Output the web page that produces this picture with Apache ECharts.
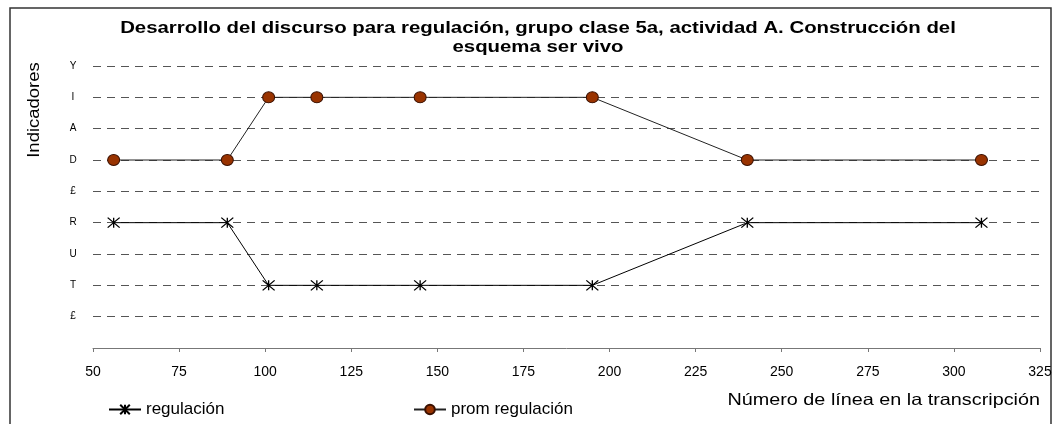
<!DOCTYPE html>
<html>
<head>
<meta charset="utf-8">
<script src="https://cdn.jsdelivr.net/npm/echarts@6/dist/echarts.min.js"></script>
<style>
  html, body { margin: 0; padding: 0; background: #fff; }
  #chart { width: 1055px; height: 424px; }
</style>
</head>
<body>
<div id="chart"></div>
<script>
// line numbers in the transcription (x)
const lineNumbers = [56, 89, 101, 115, 145, 195, 240, 308];
// indicator level per point (index into yLabels)
const regulacion = [4, 4, 2, 2, 2, 2, 4, 4];
const promRegulacion = [6, 6, 8, 8, 8, 8, 6, 6];
// y tick labels, bottom to top
const yLabels = ['', '£', 'T', 'U', 'R', '£', 'D', 'A', 'I', 'Y'];
const xTicks = [50, 325, 25];

const font = 'Liberation Sans, Arial, sans-serif';
// excel style star marker: an X with a vertical bar
const asterisk = 'path://M0,-5L0,5M-6,-5L6,5M-6,5L6,-5';

const chart = echarts.init(document.getElementById('chart'));
chart.setOption({
  animation: false,
  textStyle: { fontFamily: font },
  graphic: [{
    type: 'rect',
    shape: { x: 10, y: 8, width: 1041, height: 430 },
    style: { fill: 'none', stroke: '#333', lineWidth: 1.5 },
    silent: true
  }, {
    // title, slightly stretched like the original
    type: 'text',
    x: 538, y: 19,
    scaleX: 1.235,
    style: {
      text: 'Desarrollo del discurso para regulación, grupo clase 5a, actividad A. Construcción del\nesquema ser vivo',
      font: 'bold 16.5px ' + font,
      fill: '#000',
      align: 'center',
      lineHeight: 19
    },
    silent: true
  }, {
    type: 'text',
    x: 34, y: 110,
    rotation: Math.PI / 2,
    scaleX: 1.12,
    style: {
      text: 'Indicadores',
      font: '16.5px ' + font,
      fill: '#000',
      align: 'center',
      verticalAlign: 'middle'
    },
    silent: true
  }, {
    type: 'text',
    x: 1040, y: 400,
    scaleX: 1.2,
    style: {
      text: 'Número de línea en la transcripción',
      font: '16.5px ' + font,
      fill: '#000',
      align: 'right',
      verticalAlign: 'middle'
    },
    silent: true
  }],
  legend: [{
    data: ['regulación'],
    left: 103, top: 396,
    itemWidth: 32, itemHeight: 12, itemGap: 4,
    textStyle: { fontSize: 17, color: '#000', fontFamily: font }
  }, {
    data: ['prom regulación'],
    left: 408, top: 396,
    itemWidth: 32, itemHeight: 12, itemGap: 4,
    textStyle: { fontSize: 17, color: '#000', fontFamily: font }
  }],
  grid: { left: 93, right: 15, top: 66, bottom: 76 },
  xAxis: {
    type: 'value',
    min: xTicks[0], max: xTicks[1], interval: xTicks[2],
    axisLine: { lineStyle: { color: '#777', width: 1 } },
    axisTick: { show: true, length: 4, lineStyle: { color: '#777' } },
    axisLabel: { fontSize: 14, color: '#000', margin: 17, fontFamily: font },
    splitLine: { show: false }
  },
  yAxis: {
    type: 'value',
    min: 0, max: yLabels.length - 1, interval: 1,
    axisLine: { show: false },
    axisTick: { show: false },
    axisLabel: {
      fontSize: 10, color: '#000', margin: 20, align: 'center', fontFamily: font,
      formatter: v => yLabels[v]
    },
    splitLine: { lineStyle: { color: '#555', type: [8, 6], width: 1 } }
  },
  series: [{
    name: 'regulación',
    type: 'line',
    data: lineNumbers.map((x, i) => [x, regulacion[i]]),
    symbol: asterisk,
    symbolSize: [12, 10],
    lineStyle: { color: '#000', width: 1 },
    itemStyle: { color: '#000', borderColor: '#000', borderWidth: 1.2 },
    z: 3
  }, {
    name: 'prom regulación',
    type: 'line',
    data: lineNumbers.map((x, i) => [x, promRegulacion[i]]),
    symbol: 'circle',
    symbolSize: [12, 11],
    lineStyle: { color: '#222', width: 1 },
    itemStyle: { color: '#993300', borderColor: '#3a1000', borderWidth: 1 },
    z: 3
  }]
});
</script>
</body>
</html>
